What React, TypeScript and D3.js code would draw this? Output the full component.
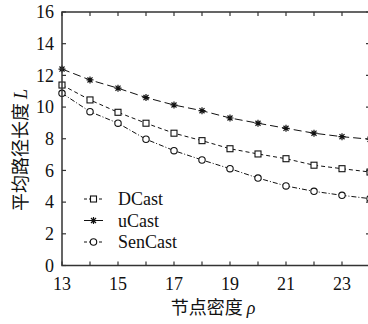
import React, { useEffect, useRef } from "react";
import * as d3 from "d3";

document.body.style.margin = "0";

const densities = [13, 14, 15, 16, 17, 18, 19, 20, 21, 22, 23, 24];
const dcast = [11.39, 10.45, 9.67, 8.98, 8.35, 7.88, 7.37, 7.04, 6.74, 6.33, 6.11, 5.9];
const ucast = [12.4, 11.71, 11.19, 10.6, 10.13, 9.77, 9.31, 8.98, 8.66, 8.35, 8.13, 7.97];
const sencast = [10.87, 9.71, 8.98, 7.97, 7.25, 6.66, 6.11, 5.52, 5.02, 4.68, 4.43, 4.22];
const xTickLabels = [13, 15, 17, 19, 21, 23];
const yTicks = [0, 2, 4, 6, 8, 10, 12, 14, 16];

type Series = { name: string; values: number[]; dash: string; marker: "square" | "star" | "circle" };

const seriesList: Series[] = [
  { name: "DCast", values: dcast, dash: "4,3", marker: "square" },
  { name: "uCast", values: ucast, dash: "8,4", marker: "star" },
  { name: "SenCast", values: sencast, dash: "5,2,1,2", marker: "circle" },
];

const SERIF = "'Liberation Serif', 'DejaVu Serif', serif";
const CJK = "'Noto Sans CJK SC', sans-serif";

function drawMarker(g: d3.Selection<SVGGElement, unknown, null, undefined>, kind: string, x: number, y: number) {
  if (kind === "square") {
    g.append("rect")
      .attr("x", x - 3).attr("y", y - 3)
      .attr("width", 6).attr("height", 6)
      .attr("fill", "white").attr("stroke", "#111").attr("stroke-width", 1.1);
  } else if (kind === "circle") {
    g.append("circle")
      .attr("cx", x).attr("cy", y).attr("r", 3.2)
      .attr("fill", "white").attr("stroke", "#111").attr("stroke-width", 1.1);
  } else {
    const r = 3.5;
    const d = r * 0.72;
    g.append("path")
      .attr("d", `M${x - r},${y}H${x + r}M${x},${y - r}V${y + r}M${x - d},${y - d}L${x + d},${y + d}M${x - d},${y + d}L${x + d},${y - d}`)
      .attr("stroke", "#111").attr("stroke-width", 1.2);
  }
}

const App: React.FC = () => {
  const ref = useRef<SVGSVGElement>(null);

  useEffect(() => {
    if (!ref.current) return;
    const svg = d3.select(ref.current);
    svg.selectAll("*").remove();

    const left = 62, right = 370, top = 12, bottom = 265.5;
    const x = d3.scaleLinear().domain([13, 24]).range([left, right]);
    const y = d3.scaleLinear().domain([0, 16]).range([bottom, top]);

    const g = svg.append("g");

    // series lines
    seriesList.forEach((s) => {
      const line = d3.line<number>()
        .x((_d, i) => x(densities[i]))
        .y((d) => y(d));
      g.append("path")
        .datum(s.values)
        .attr("d", line)
        .attr("fill", "none")
        .attr("stroke", "#111")
        .attr("stroke-width", 1)
        .attr("stroke-dasharray", s.dash);
      s.values.forEach((v, i) => drawMarker(g, s.marker, x(densities[i]), y(v)));
    });

    // frame
    const axisColor = "#333";
    g.append("rect")
      .attr("x", left).attr("y", top)
      .attr("width", right - left).attr("height", bottom - top)
      .attr("fill", "none").attr("stroke", axisColor).attr("stroke-width", 1.5);

    const tl = 4;
    densities.forEach((d) => {
      g.append("line").attr("x1", x(d)).attr("x2", x(d)).attr("y1", bottom).attr("y2", bottom - tl)
        .attr("stroke", axisColor).attr("stroke-width", 1.2);
      g.append("line").attr("x1", x(d)).attr("x2", x(d)).attr("y1", top).attr("y2", top + tl)
        .attr("stroke", axisColor).attr("stroke-width", 1.2);
    });
    yTicks.forEach((t) => {
      g.append("line").attr("x1", left).attr("x2", left + tl).attr("y1", y(t)).attr("y2", y(t))
        .attr("stroke", axisColor).attr("stroke-width", 1.2);
      g.append("line").attr("x1", right).attr("x2", right - tl).attr("y1", y(t)).attr("y2", y(t))
        .attr("stroke", axisColor).attr("stroke-width", 1.2);
      g.append("text")
        .attr("x", left - 8).attr("y", y(t))
        .attr("dy", "0.35em")
        .attr("text-anchor", "end")
        .style("font-family", SERIF).style("font-size", "18px").style("fill", "#111")
        .text(t);
    });
    xTickLabels.forEach((t) => {
      g.append("text")
        .attr("x", x(t)).attr("y", bottom + 24)
        .attr("text-anchor", "middle")
        .style("font-family", SERIF).style("font-size", "18px").style("fill", "#111")
        .text(t);
    });

    // legend
    seriesList.forEach((s, i) => {
      const ly = 199 + i * 21.5;
      g.append("line").attr("x1", 84).attr("x2", 103).attr("y1", ly).attr("y2", ly)
        .attr("stroke", "#111").attr("stroke-width", 1).attr("stroke-dasharray", s.marker === "star" ? "8,3" : "3,2");
      drawMarker(g, s.marker, 93.5, ly);
      g.append("text")
        .attr("x", 118).attr("y", ly).attr("dy", "0.35em")
        .style("font-family", SERIF).style("font-size", "18px").style("fill", "#111")
        .text(s.name);
    });

    // axis titles
    const xt = g.append("text")
      .attr("x", 213).attr("y", 314)
      .attr("text-anchor", "middle")
      .style("font-size", "18px").style("fill", "#111");
    xt.append("tspan").style("font-family", CJK).text("节点密度 ");
    xt.append("tspan").style("font-family", SERIF).style("font-style", "italic").text("ρ");

    const yt = g.append("text")
      .attr("transform", `translate(27,150) rotate(-90)`)
      .attr("text-anchor", "middle")
      .style("font-size", "18px").style("fill", "#111");
    yt.append("tspan").style("font-family", CJK).text("平均路径长度 ");
    yt.append("tspan").style("font-family", SERIF).style("font-style", "italic").text("L");
  }, []);

  return <svg ref={ref} width={368} height={324} style={{ display: "block" }} />;
};

export default App;
